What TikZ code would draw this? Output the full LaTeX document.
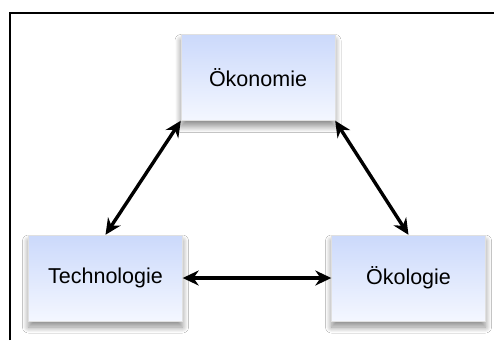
\documentclass[tikz,border=0pt]{standalone}
\usepackage{fontspec}
\setmainfont{Liberation Sans}
\usetikzlibrary{arrows.meta,shadows.blur}
\definecolor{boxtop}{HTML}{CBD9FB}
\definecolor{boxbot}{HTML}{F4F7FF}
\tikzset{
  conceptbox/.style={minimum width=154pt, minimum height=86pt, inner sep=0pt,
    top color=boxtop, bottom color=boxbot, draw=black!12, line width=0.4pt,
    blur shadow={shadow xshift=0pt, shadow yshift=-6pt, shadow blur radius=6pt, shadow blur steps=12, shadow opacity=45},
    font=\fontsize{21.5}{24}\selectfont},
  link/.style={line width=3.4pt, {Stealth[length=16pt,width=15pt]}-{Stealth[length=16pt,width=15pt]}}
}
\begin{document}
\begin{tikzpicture}[x=1pt,y=-1pt]
\useasboundingbox (0,0) rectangle (494,340);
\fill[white] (0,0) rectangle (494,340);
\draw[line width=1.2pt] (10,340) -- (10,13) -- (494,13);
\node[conceptbox] (oko) at (258,77.5) {Ökonomie};
\node[conceptbox] (tech) at (105.5,278) {Technologie};
\node[conceptbox] (okol) at (408.5,278) {Ökologie};
\draw[link] (oko.south west) -- (tech.north);
\draw[link] (oko.south east) -- (okol.north);
\draw[link] (tech.east) -- (okol.west);
\end{tikzpicture}
\end{document}
